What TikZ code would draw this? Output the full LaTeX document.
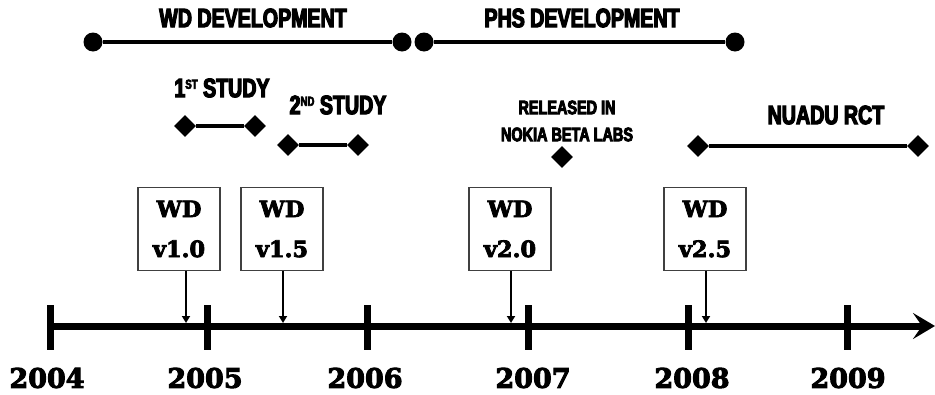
\documentclass[tikz,border=0pt]{standalone}
\usepackage{fontspec}
\usetikzlibrary{arrows.meta,shapes.geometric}
\newfontfamily\headfont[FakeStretch=0.74,FakeBold=4.5]{Liberation Sans Bold}
\newfontfamily\slabfont[FakeBold=3.5]{DejaVu Serif Bold}
\begin{document}
\begin{tikzpicture}[x=1pt,y=-1pt,
  heading/.style={font=\headfont\fontsize{26.5}{27}\selectfont, inner sep=0pt},
  smallhead/.style={font=\headfont\fontsize{19.5}{27}\selectfont, inner sep=0pt, align=center},
  year/.style={font=\slabfont\fontsize{27}{30}\selectfont, inner sep=0pt},
  version/.style={draw=black!75, line width=1.3pt, fill=white, minimum width=82pt,
    minimum height=83pt, inner sep=0pt, align=center,
    font=\slabfont\fontsize{22.5}{40}\selectfont},
  dotend/.style={circle, fill=black, inner sep=0pt, minimum size=19pt},
  diamend/.style={diamond, fill=black, inner sep=0pt, minimum size=22pt},
  span/.style={line width=3.5pt},
  release/.style={-{Triangle[length=7pt,width=8pt]}, line width=2.2pt},
  tick/.style={line width=7pt},
]
\useasboundingbox (0,0) rectangle (935,394);

% time axis
\coordinate (axstart) at (50,326);
\coordinate (axend) at (935,326);
\draw[line width=7pt, -{Stealth[length=22pt,width=26pt,inset=9pt]}] (axstart) -- (axend);

% year ticks and labels
\foreach \yr/\xx in {2004/50,2005/207,2006/367,2007/528,2008/688,2009/847}{
  \coordinate (t\yr a) at (\xx,305);
  \coordinate (t\yr b) at (\xx,350);
  \draw[tick] (t\yr a) -- (t\yr b);
}
\node[year] (y2004) at (47,378) {2004};
\node[year] (y2005) at (205,378) {2005};
\node[year] (y2006) at (365,378) {2006};
\node[year] (y2007) at (533,378) {2007};
\node[year] (y2008) at (692,378) {2008};
\node[year] (y2009) at (848,378) {2009};

% development phases
\node[dotend] (wd1) at (93,42) {};
\node[dotend] (wd2) at (402,42) {};
\node[dotend] (phs1) at (424,42) {};
\node[dotend] (phs2) at (735,42) {};
\draw[span] (wd1) -- (wd2);
\draw[span] (phs1) -- (phs2);
\node[heading] (wdlab) at (253,18) {WD DEVELOPMENT};
\node[heading] (phslab) at (582,18) {PHS DEVELOPMENT};

% studies
\node[heading] (s1lab) at (222,88) {1\raisebox{0.6ex}{\fontsize{13}{13}\selectfont ST} STUDY};
\node[diamend] (s1a) at (185,126) {};
\node[diamend] (s1b) at (255,126) {};
\draw[span] (s1a) -- (s1b);
\node[heading] (s2lab) at (338,105) {2\raisebox{0.6ex}{\fontsize{13}{13}\selectfont ND} STUDY};
\node[diamend] (s2a) at (288,145) {};
\node[diamend] (s2b) at (358,145) {};
\draw[span] (s2a) -- (s2b);

% beta release
\node[smallhead] (beta) at (567,121) {RELEASED IN\\NOKIA BETA LABS};
\node[diamend] (betad) at (562,157) {};

% randomised trial
\node[heading] (rctlab) at (826,115) {NUADU RCT};
\node[diamend] (rcta) at (698,146) {};
\node[diamend] (rctb) at (918,146) {};
\draw[span] (rcta) -- (rctb);

% versions
\node[version] (v10) at (179,229) {WD\\v1.0};
\node[version] (v15) at (282,229) {WD\\v1.5};
\node[version] (v20) at (510,229) {WD\\v2.0};
\node[version] (v25) at (705,229) {WD\\v2.5};
\coordinate (p10) at (186,323);
\coordinate (p15) at (283,323);
\coordinate (p20) at (511,323);
\coordinate (p25) at (706,323);
\draw[release] (v10.south -| p10) -- (p10);
\draw[release] (v15.south -| p15) -- (p15);
\draw[release] (v20.south -| p20) -- (p20);
\draw[release] (v25.south -| p25) -- (p25);
\end{tikzpicture}
\end{document}
